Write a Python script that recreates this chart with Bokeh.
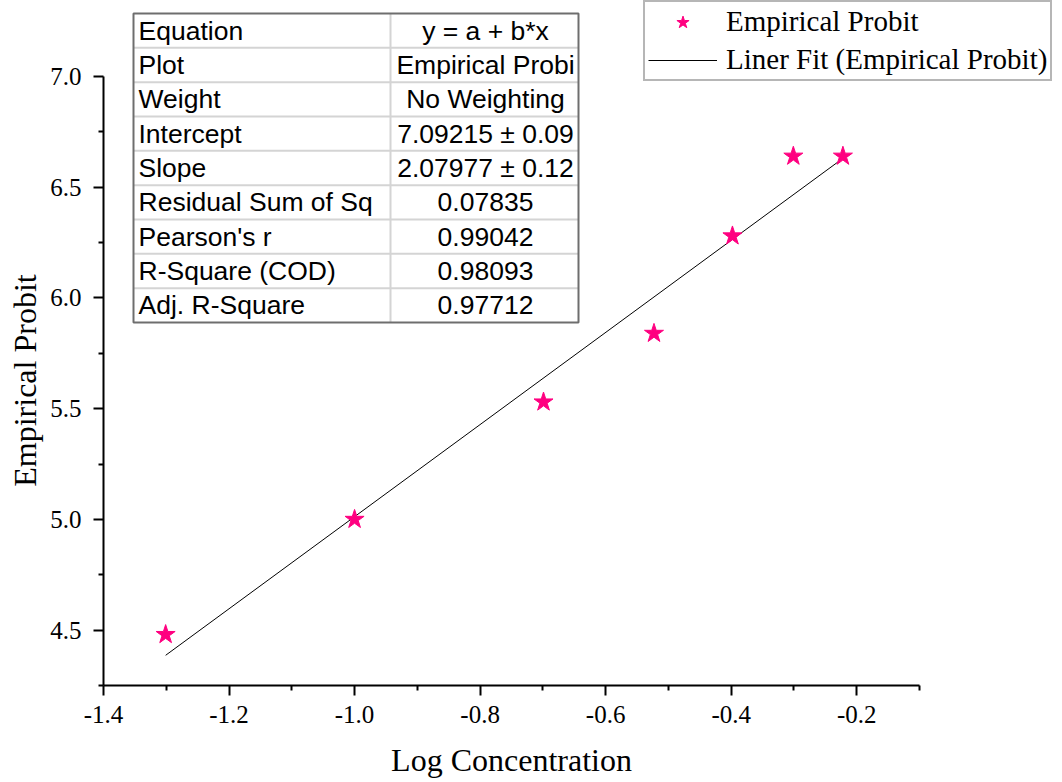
import math
from bokeh.plotting import figure
from bokeh.models import Range1d, FixedTicker, Label, NumeralTickFormatter
from bokeh.core.properties import value
from bokeh.embed import file_html
from bokeh.resources import INLINE

# ---------------- data ----------------
log_conc = [-1.301, -1.0, -0.699, -0.523, -0.398, -0.301, -0.222]
probit = [4.48, 5.00, 5.53, 5.84, 6.28, 6.64, 6.64]
intercept = 7.09215
slope = 2.07977

x_major = [-1.4, -1.2, -1.0, -0.8, -0.6, -0.4, -0.2]
x_minor = [-1.3, -1.1, -0.9, -0.7, -0.5, -0.3, -0.1]
y_major = [4.5, 5.0, 5.5, 6.0, 6.5, 7.0]
y_minor = [4.25, 4.75, 5.25, 5.75, 6.25, 6.75]

table_keys = ["Equation", "Plot", "Weight", "Intercept", "Slope",
              "Residual Sum of Sq", "Pearson's r", "R-Square (COD)", "Adj. R-Square"]
table_vals = ["y = a + b*x", "Empirical Probi", "No Weighting",
              "7.09215 \u00b1 0.09", "2.07977 \u00b1 0.12", "0.07835",
              "0.99042", "0.98093", "0.97712"]

# ---------------- layout geometry (canvas pixels) ----------------
W, H = 1058, 780
X0, X1 = -1.4, -0.1
Y0, Y1 = 4.25, 7.0
ax_left, ax_right, ax_top, ax_bottom = 103, 919, 76, 685
xpp = (X1 - X0) / (ax_right - ax_left)
ypp = (Y1 - Y0) / (ax_bottom - ax_top)


def px(cx):
    return X0 + (cx - ax_left) * xpp


def py(cy):
    return Y1 - (cy - ax_top) * ypp


p = figure(width=W, height=H, output_backend="svg", toolbar_location=None,
           x_range=Range1d(px(0), px(W)), y_range=Range1d(py(H), py(0)),
           min_border=0)
p.outline_line_color = None
p.xgrid.visible = False
p.ygrid.visible = False
p.background_fill_color = "white"
p.border_fill_color = "white"

for ax, bounds, maj, mnr, loc in ((p.xaxis[0], (X0, X1), x_major, x_minor, Y0),
                                  (p.yaxis[0], (Y0, Y1), y_major, y_minor, X0)):
    ax.fixed_location = loc
    ax.bounds = bounds
    ax.ticker = FixedTicker(ticks=maj, minor_ticks=mnr)
    ax.formatter = NumeralTickFormatter(format="0.0")
    ax.axis_line_width = 2
    ax.axis_line_color = "black"
    ax.major_tick_line_width = 2
    ax.minor_tick_line_width = 2
    ax.major_tick_in = 0
    ax.major_tick_out = 10
    ax.minor_tick_in = 0
    ax.minor_tick_out = 5
    ax.major_label_text_font = "Liberation Serif"
    ax.major_label_text_font_size = "25px"
    ax.major_label_text_color = "black"
p.xaxis.major_label_standoff = 10
p.yaxis.major_label_standoff = 12

# ---------------- fit table ----------------
t_left, t_mid, t_right, t_top, t_bottom = 133, 390, 578, 13, 322
n = len(table_keys)
rh = (t_bottom - t_top) / n
p.quad(left=[px(t_left)], right=[px(t_right)], top=[py(t_top)], bottom=[py(t_bottom)],
       fill_color="white", line_color=None)
hx0, hx1, hy = [], [], []
for i in range(1, n):
    yy = py(t_top + i * rh)
    hx0.append(px(t_left)); hx1.append(px(t_right)); hy.append(yy)
p.segment(x0=hx0, y0=hy, x1=hx1, y1=hy, line_color="#d4d4d4", line_width=2)
p.segment(x0=[px(t_mid)], y0=[py(t_top)], x1=[px(t_mid)], y1=[py(t_bottom)],
          line_color="#d4d4d4", line_width=2)
p.quad(left=[px(t_left)], right=[px(t_right)], top=[py(t_top)], bottom=[py(t_bottom)],
       fill_color=None, line_color="#6e6e6e", line_width=2)

row_y = [py(t_top + (i + 0.5) * rh) for i in range(n)]
p.text(x=[px(t_left + 5)] * n, y=row_y, text=table_keys,
       text_font=value("Liberation Sans"), text_font_size="26.5px",
       text_align="left", text_baseline="middle", text_color="black")
p.text(x=[px(485)] * n, y=row_y, text=table_vals,
       text_font=value("Liberation Sans"), text_font_size="26.5px",
       text_align="center", text_baseline="middle", text_color="black")

# ---------------- data + fit ----------------
fit_x = [min(log_conc), max(log_conc)]
fit_y = [intercept + slope * v for v in fit_x]
p.line(fit_x, fit_y, line_color="black", line_width=1,
       legend_label="Liner Fit (Empirical Probit)")
p.scatter(log_conc, probit, marker="star", size=20, fill_color="#FF0080",
          line_color="#FF0080", legend_label="Empirical Probit")

leg = p.legend[0]
leg.items = [leg.items[1], leg.items[0]]
leg.location = (643, H - 81)
leg.margin = 0
leg.padding = 3
leg.spacing = 5
leg.glyph_width = 69
leg.glyph_height = 32
leg.label_height = 32
leg.label_standoff = 9
leg.label_text_font = "Liberation Serif"
leg.label_text_font_size = "29px"
leg.label_text_color = "black"
leg.border_line_color = "#6e6e6e"
leg.border_line_width = 2
leg.background_fill_color = "white"
leg.background_fill_alpha = 1.0

# ---------------- axis titles ----------------
p.add_layout(Label(x=px(511), y=py(759), text="Log Concentration",
                   text_font="Liberation Serif", text_font_size="32px",
                   text_align="center", text_baseline="middle", text_color="black"))
p.add_layout(Label(x=px(24), y=py(380), text="Empirical Probit", angle=math.pi / 2,
                   text_font="Liberation Serif", text_font_size="32px",
                   text_align="center", text_baseline="middle", text_color="black"))

open("out.html", "w").write(file_html(p, INLINE))
